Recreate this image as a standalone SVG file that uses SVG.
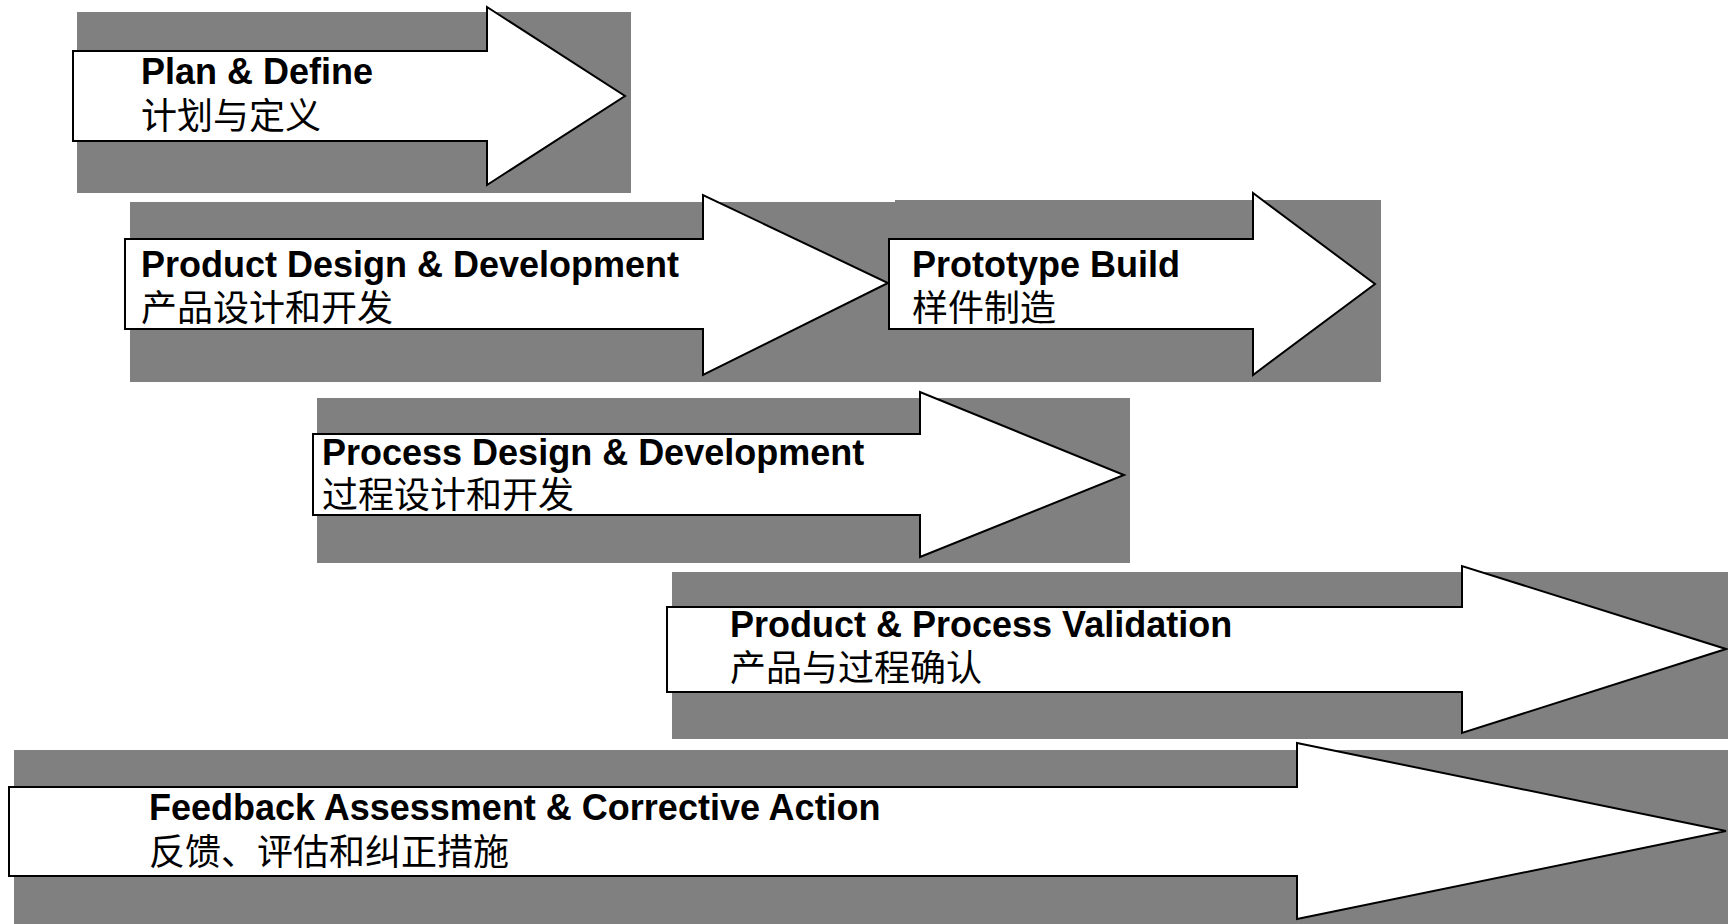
<svg xmlns="http://www.w3.org/2000/svg" width="1728" height="924" viewBox="0 0 1728 924">
<style>
.bg{fill:#808080;stroke:none}
.ar{fill:#ffffff;stroke:#000000;stroke-width:2;stroke-linejoin:miter}
.en{font-family:"Liberation Sans",Arial,sans-serif;font-weight:bold;font-size:36px;fill:#000}
.zh{font-family:"Noto Sans CJK SC","Liberation Sans",sans-serif;font-size:36px;fill:#000}
</style>
<rect width="1728" height="924" fill="#ffffff"/>
<g id="plan-define">
<rect class="bg" x="77" y="12" width="554" height="181"/>
<polygon class="ar" points="73,51 487,51 487,7 625,96 487,185 487,141 73,141"/>
<text class="en" x="141" y="84">Plan &amp; Define</text>
<text class="zh" x="141" y="129">计划与定义</text>
</g>
<g id="product-design">
<rect class="bg" x="130" y="202" width="765" height="180"/>
<polygon class="ar" points="125,239 703,239 703,195 888,283 703,375 703,329 125,329"/>
<text class="en" x="141" y="277">Product Design &amp; Development</text>
<text class="zh" x="141" y="321">产品设计和开发</text>
</g>
<g id="prototype-build">
<rect class="bg" x="895" y="200" width="486" height="182"/>
<polygon class="ar" points="889,239 1253,239 1253,193 1375,284 1253,375 1253,329 889,329"/>
<text class="en" x="912" y="277">Prototype Build</text>
<text class="zh" x="912" y="321">样件制造</text>
</g>
<g id="process-design">
<rect class="bg" x="317" y="398" width="813" height="165"/>
<polygon class="ar" points="313,434 920,434 920,392 1124,475 920,557 920,515 313,515"/>
<text class="en" x="322" y="465">Process Design &amp; Development</text>
<text class="zh" x="322" y="508">过程设计和开发</text>
</g>
<g id="validation">
<rect class="bg" x="672" y="572" width="1056" height="167"/>
<polygon class="ar" points="667,607 1462,607 1462,566 1726,649 1462,733 1462,692 667,692"/>
<text class="en" x="730" y="637">Product &amp; Process Validation</text>
<text class="zh" x="730" y="681">产品与过程确认</text>
</g>
<g id="feedback">
<rect class="bg" x="14" y="750" width="1714" height="174"/>
<polygon class="ar" points="9,787 1297,787 1297,743 1726,831 1297,919 1297,876 9,876"/>
<text class="en" x="149" y="820">Feedback Assessment &amp; Corrective Action</text>
<text class="zh" x="149" y="865">反馈、评估和纠正措施</text>
</g>
<g id="connectors"></g>
</svg>
